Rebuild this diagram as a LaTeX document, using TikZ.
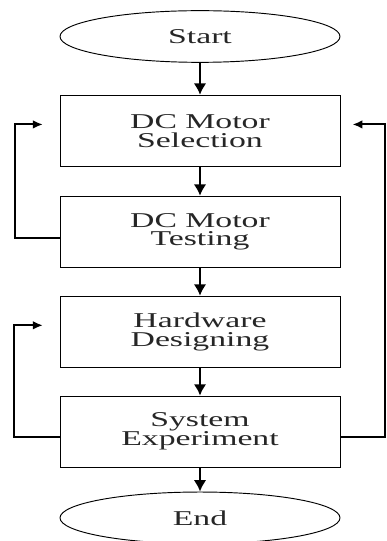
\documentclass[tikz,border=0pt]{standalone}
\usepackage{fontspec}
\setmainfont{Liberation Serif}[FakeStretch=1.6]
\usetikzlibrary{arrows.meta, positioning, calc, shapes.geometric}
\tikzset{
  block/.style = {draw, rectangle, align=center, line width=0.8pt,
                  text=black!85, font=\fontsize{18pt}{16pt}\selectfont,
                  minimum height=2.13cm, minimum width=8.4cm, inner sep=0pt},
  term/.style  = {draw, ellipse, line width=0.8pt, text=black!85,
                  font=\fontsize{18pt}{16pt}\selectfont,
                  minimum height=1.55cm, minimum width=8.4cm, inner sep=0pt},
  arr/.style   = {-{Latex[length=3.4mm, width=3.8mm]}, line width=2.2pt},
  back/.style  = {-{Latex[length=3mm, width=2.6mm]}, line width=1.7pt},
  node distance = 0.84cm
}

\begin{document}
\begin{tikzpicture}
  \useasboundingbox (-6,1.095) rectangle (5.61,-15.135);

  % ── Main flow ─────────────────────────────────────────────────────────────
  \node[term]                         (start) {Start};
  \node[block, below=0.96cm of start] (sel)   {DC Motor\\Selection};
  \node[block, below=0.87cm of sel]   (test)  {DC Motor\\Testing};
  \node[block, below=of test]         (hw)    {Hardware\\Designing};
  \node[block, below=of hw]           (sys)   {System\\Experiment};
  \node[term, below=0.72cm of sys]    (stop)  {End};

  % ── Loop entry points ────────────────────────────────────────────────────
  \coordinate (selInL) at ($(sel.west)+(-0.5,0.19)$);
  \coordinate (selInR) at ($(sel.east)+(0.36,0.19)$);
  \coordinate (hwIn)   at ($(hw.west)+(-0.5,0.19)$);

  % ── Connections ───────────────────────────────────────────────────────────
  \draw[arr] (start) -- (sel);
  \draw[arr] (sel)   -- (test);
  \draw[arr] (test)  -- (hw);
  \draw[arr] (hw)    -- (sys);
  \draw[arr] (sys)   -- (stop);

  % Testing back to selection
  \draw[back] ($(test.west)+(0,-0.19)$) -- ++(-1.35,0) |- (selInL);
  % Experiment back to hardware design
  \draw[back] ($(sys.west)+(0,-0.17)$) -- ++(-1.38,0) |- (hwIn);
  % Experiment back to motor selection
  \draw[back] ($(sys.east)+(0,-0.17)$) -- ++(1.35,0) |- (selInR);

\end{tikzpicture}
\end{document}
